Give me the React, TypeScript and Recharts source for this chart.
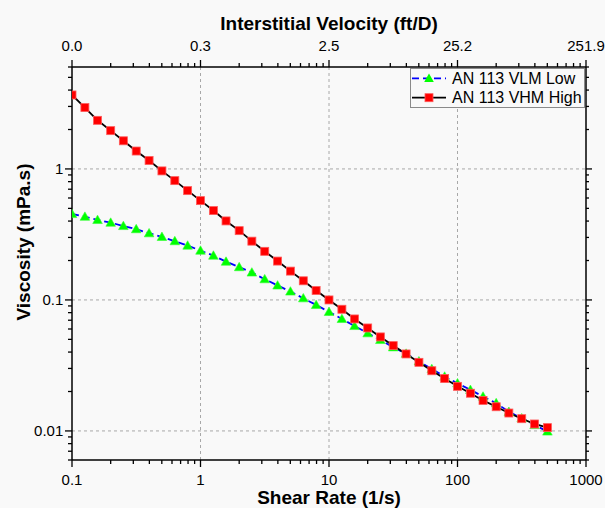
import React from 'react';
import { ComposedChart, Line, XAxis, YAxis, ReferenceLine, Legend, Label } from 'recharts';

// ---- data ----
const shearRate = [0.1, 0.126, 0.158, 0.2, 0.251, 0.316, 0.398, 0.501, 0.631, 0.794, 1, 1.26, 1.58, 2, 2.51, 3.16, 3.98, 5.01, 6.31, 7.94, 10, 12.6, 15.8, 20, 25.1, 31.6, 39.8, 50.1, 63.1, 79.4, 100, 126, 158, 200, 251, 316, 398, 501];
const viscosityLow = [0.453, 0.432, 0.408, 0.389, 0.367, 0.347, 0.323, 0.303, 0.281, 0.26, 0.238, 0.218, 0.196, 0.178, 0.162, 0.144, 0.129, 0.116, 0.103, 0.0916, 0.081, 0.0716, 0.0633, 0.0557, 0.0495, 0.0435, 0.0389, 0.034, 0.0297, 0.026, 0.0231, 0.0206, 0.0183, 0.0163, 0.014, 0.0125, 0.0111, 0.0099];
const viscosityHigh = [3.67, 2.94, 2.35, 1.96, 1.64, 1.37, 1.16, 0.966, 0.814, 0.683, 0.573, 0.481, 0.401, 0.338, 0.281, 0.235, 0.198, 0.166, 0.14, 0.118, 0.1, 0.0849, 0.0716, 0.0611, 0.0522, 0.0448, 0.0387, 0.0334, 0.0288, 0.0251, 0.0219, 0.0194, 0.0171, 0.0153, 0.0137, 0.0124, 0.0113, 0.0106];
const seriesNames = ['AN 113 VLM Low', 'AN 113 VHM High'];

const xMajorTicks = [0.1, 1, 10, 100, 1000];
const xTickLabels = ['0.1', '1', '10', '100', '1000'];
const velocityLabels = ['0.0', '0.3', '2.5', '25.2', '251.9'];
const yMajorTicks = [0.01, 0.1, 1];
const yTickLabels = ['0.01', '0.1', '1'];
const xDomain = [0.1, 1000];
const yDomain = [0.006, 6];
const minorMultipliers = [1, 2, 3, 4, 5, 6, 7, 8, 9];
const xDecades = [0.1, 1, 10, 100, 1000];
const yDecades = [0.001, 0.01, 0.1, 1];

const titles = {
  top: 'Interstitial Velocity (ft/D)',
  bottom: 'Shear Rate (1/s)',
  left: 'Viscosity (mPa.s)',
};

const data = shearRate.map((s, i) => ({ shear: s, low: viscosityLow[i], high: viscosityHigh[i] }));

const withinDomain = (v: number, d: number[]) => v >= d[0] * (1 - 1e-9) && v <= d[1] * (1 + 1e-9);
const xTicks = xDecades.flatMap((d) => minorMultipliers.map((m) => d * m)).filter((v) => withinDomain(v, xDomain));
const yTicks = yDecades.flatMap((d) => minorMultipliers.map((m) => d * m)).filter((v) => withinDomain(v, yDomain));

const majorIndex = (v: number, majors: number[]) => majors.findIndex((m) => Math.abs(v - m) / m < 1e-6);

const FONT = "Arial, 'Liberation Sans', sans-serif";
const TICK_FS = 15;
const MAJOR_LEN = 7;
const MINOR_LEN = 4;
const TICK_W = 1.3;
const BG = '#f9f9f9';

const BottomTick = (p: any) => {
  const { x, y, payload } = p;
  const mi = majorIndex(payload.value, xMajorTicks);
  const len = mi >= 0 ? MAJOR_LEN : MINOR_LEN;
  return (
    <g>
      <line x1={x} x2={x} y1={y} y2={y + len} stroke="#000" strokeWidth={TICK_W} />
      {mi >= 0 && (
        <text x={x} y={y + 25} textAnchor="middle" fontSize={TICK_FS} fontFamily={FONT} fill="#000">
          {xTickLabels[mi]}
        </text>
      )}
    </g>
  );
};

const TopTick = (p: any) => {
  const { x, y, payload } = p;
  const mi = majorIndex(payload.value, xMajorTicks);
  const len = mi >= 0 ? MAJOR_LEN : MINOR_LEN;
  return (
    <g>
      <line x1={x} x2={x} y1={y} y2={y - len} stroke="#000" strokeWidth={TICK_W} />
      {mi >= 0 && (
        <text x={x} y={y - 16} textAnchor="middle" fontSize={TICK_FS} fontFamily={FONT} fill="#000">
          {velocityLabels[mi]}
        </text>
      )}
    </g>
  );
};

const LeftTick = (p: any) => {
  const { x, y, payload } = p;
  const mi = majorIndex(payload.value, yMajorTicks);
  const len = mi >= 0 ? MAJOR_LEN : MINOR_LEN;
  return (
    <g>
      <line x1={x} x2={x - len} y1={y} y2={y} stroke="#000" strokeWidth={TICK_W} />
      {mi >= 0 && (
        <text x={x - 8.7} y={y + 5.3} textAnchor="end" fontSize={TICK_FS} fontFamily={FONT} fill="#000">
          {yTickLabels[mi]}
        </text>
      )}
    </g>
  );
};

const RightTick = (p: any) => {
  const { x, y, payload } = p;
  const mi = majorIndex(payload.value, yMajorTicks);
  const len = mi >= 0 ? MAJOR_LEN - 1 : MINOR_LEN - 1;
  return (
    <g>
      <line x1={x} x2={x + len} y1={y} y2={y} stroke="#000" strokeWidth={TICK_W} />
    </g>
  );
};

const SquareDot = (p: any) => {
  const { cx, cy, index } = p;
  if (cx == null || cy == null) return <g key={`s${index}`} />;
  return <rect key={`s${index}`} x={cx - 4} y={cy - 4} width={8} height={8} fill="#ff0000" stroke="#ff5a5a" strokeWidth={0.8} />;
};

const TriangleDot = (p: any) => {
  const { cx, cy, index } = p;
  if (cx == null || cy == null) return <g key={`t${index}`} />;
  return (
    <polygon
      key={`t${index}`}
      points={`${cx},${cy - 4.8} ${cx + 4.8},${cy + 3.6} ${cx - 4.8},${cy + 3.6}`}
      fill="#00ff00"
      stroke="#33ff33"
      strokeWidth={0.6}
    />
  );
};

const lowStyle = { stroke: '#0000ff', dash: '7 4' };
const highStyle = { stroke: '#000000', dash: undefined as string | undefined };

const renderLegend = () => {
  const rows = [
    { name: seriesNames[0], style: lowStyle, marker: 'tri' },
    { name: seriesNames[1], style: highStyle, marker: 'sq' },
  ];
  return (
    <div style={{ width: 175, height: 40, border: '1px solid #8a8a8a', background: BG, boxSizing: 'border-box' }}>
      <svg width={173} height={38} style={{ display: 'block' }}>
        {rows.map((r, i) => {
          const cy = 9.3 + i * 19.4;
          return (
            <g key={r.name}>
              <line x1={1} x2={35} y1={cy} y2={cy} stroke={r.style.stroke} strokeWidth={1.8} strokeDasharray={r.style.dash} />
              {r.marker === 'tri' ? (
                <polygon points={`${18},${cy - 4.8} ${22.8},${cy + 3.6} ${13.2},${cy + 3.6}`} fill="#00ff00" />
              ) : (
                <rect x={14} y={cy - 4} width={8} height={8} fill="#ff0000" stroke="#ff5a5a" strokeWidth={0.8} />
              )}
              <text x={41} y={cy + 5.7} fontSize={16} fontFamily={FONT} fill="#000">
                {r.name}
              </text>
            </g>
          );
        })}
      </svg>
    </div>
  );
};

const titleStyle = { fontSize: 19, fontWeight: 700, fontFamily: FONT, fill: '#000' } as const;

export default function App() {
  return (
    <div style={{ position: 'absolute', left: 0, top: 0, width: 605, height: 508, background: BG }}>
      <ComposedChart width={605} height={508} data={data} margin={{ top: 0, right: 0, bottom: 0, left: 0 }}>
        <XAxis
          xAxisId="bottom"
          dataKey="shear"
          type="number"
          scale="log"
          domain={xDomain}
          allowDataOverflow
          ticks={xTicks}
          interval={0}
          height={48}
          tickSize={0}
          tickMargin={0}
          tickLine={false}
          axisLine={{ stroke: '#000', strokeWidth: 1.5 }}
          tick={(p: any) => <BottomTick {...p} />}
        >
          <Label
            content={(p: any) => {
              const vb = p.viewBox || { x: 72, y: 460, width: 514, height: 48 };
              return (
                <text x={vb.x + vb.width / 2} y={vb.y + 43.5} textAnchor="middle" {...titleStyle}>
                  {titles.bottom}
                </text>
              );
            }}
          />
        </XAxis>
        <XAxis
          xAxisId="top"
          dataKey="shear"
          orientation="top"
          type="number"
          scale="log"
          domain={xDomain}
          allowDataOverflow
          ticks={xTicks}
          interval={0}
          height={67}
          tickSize={0}
          tickMargin={0}
          tickLine={false}
          axisLine={{ stroke: '#000', strokeWidth: 1.5 }}
          tick={(p: any) => <TopTick {...p} />}
        >
          <Label
            content={(p: any) => {
              const vb = p.viewBox || { x: 72, y: 0, width: 514, height: 67 };
              return (
                <text x={vb.x + vb.width / 2} y={vb.y + 30} textAnchor="middle" {...titleStyle}>
                  {titles.top}
                </text>
              );
            }}
          />
        </XAxis>
        <YAxis
          yAxisId="left"
          type="number"
          scale="log"
          domain={yDomain}
          allowDataOverflow
          ticks={yTicks}
          interval={0}
          width={72}
          tickSize={0}
          tickMargin={0}
          tickLine={false}
          axisLine={{ stroke: '#000', strokeWidth: 1.5 }}
          tick={(p: any) => <LeftTick {...p} />}
        >
          <Label
            content={(p: any) => {
              const vb = p.viewBox || { x: 0, y: 67, width: 72, height: 393 };
              const cx = vb.x + 30.3;
              const cy = vb.y + 175;
              return (
                <text x={cx} y={cy} textAnchor="middle" transform={`rotate(-90 ${cx} ${cy})`} {...titleStyle}>
                  {titles.left}
                </text>
              );
            }}
          />
        </YAxis>
        <YAxis
          yAxisId="right"
          orientation="right"
          type="number"
          scale="log"
          domain={yDomain}
          allowDataOverflow
          ticks={yTicks}
          interval={0}
          width={19}
          tickSize={0}
          tickMargin={0}
          tickLine={false}
          axisLine={{ stroke: '#000', strokeWidth: 1.5 }}
          tick={(p: any) => <RightTick {...p} />}
        />
        {xMajorTicks.slice(1, -1).map((v) => (
          <ReferenceLine key={`gx${v}`} x={v} xAxisId="bottom" yAxisId="left" stroke="#a8a8a8" strokeWidth={1} strokeDasharray="3 3" />
        ))}
        {yMajorTicks.map((v) => (
          <ReferenceLine key={`gy${v}`} y={v} xAxisId="bottom" yAxisId="left" stroke="#a8a8a8" strokeWidth={1} strokeDasharray="3 3" />
        ))}
        {/* invisible series that binds the mirrored top and right axes */}
        <Line
          xAxisId="top"
          yAxisId="right"
          type="linear"
          dataKey="high"
          stroke="none"
          strokeWidth={0}
          dot={false}
          activeDot={false}
          legendType="none"
          isAnimationActive={false}
        />
        <Line
          xAxisId="bottom"
          yAxisId="left"
          type="linear"
          dataKey="low"
          name={seriesNames[0]}
          stroke={lowStyle.stroke}
          strokeWidth={1.8}
          strokeDasharray={lowStyle.dash}
          dot={(p: any) => <TriangleDot key={`t${p.index}`} {...p} />}
          activeDot={false}
          isAnimationActive={false}
        />
        <Line
          xAxisId="bottom"
          yAxisId="left"
          type="linear"
          dataKey="high"
          name={seriesNames[1]}
          stroke={highStyle.stroke}
          strokeWidth={1.8}
          dot={(p: any) => <SquareDot key={`s${p.index}`} {...p} />}
          activeDot={false}
          isAnimationActive={false}
        />
        <Legend
          layout="vertical"
          align="center"
          verticalAlign="middle"
          content={renderLegend}
          wrapperStyle={{ position: 'absolute', left: 410, top: 68, width: 175, height: 40 }}
        />
      </ComposedChart>
    </div>
  );
}
